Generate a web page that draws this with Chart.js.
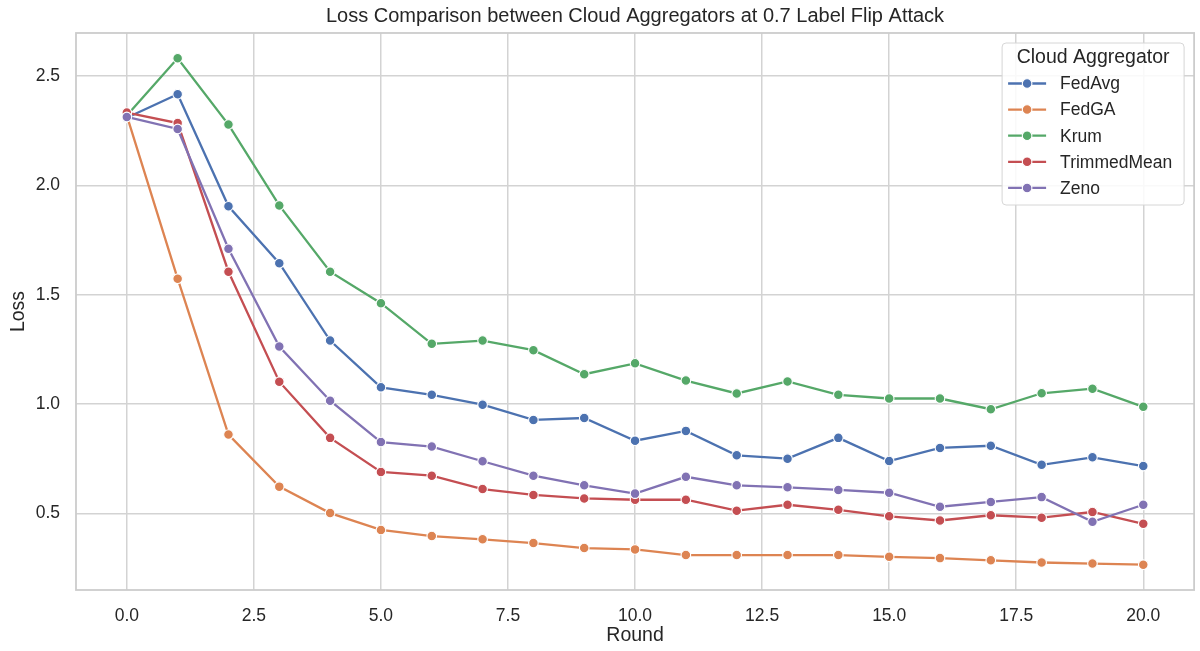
<!DOCTYPE html>
<html>
<head>
<meta charset="utf-8">
<title>Loss Comparison between Cloud Aggregators</title>
<script src="https://cdn.jsdelivr.net/npm/chart.js@4.4.0/dist/chart.umd.min.js"></script>
<style>
  html, body { margin: 0; padding: 0; background: #ffffff; }
  #wrap { width: 1200px; height: 651px; position: relative; }
</style>
</head>
<body>
<div id="wrap"><canvas id="chart" width="1200" height="651"></canvas></div>
<script>
// Loss per round for each cloud aggregator (0.7 label flip attack)
const rounds = [0, 1, 2, 3, 4, 5, 6, 7, 8, 9, 10, 11, 12, 13, 14, 15, 16, 17, 18, 19, 20];
const aggregatorNames = ["FedAvg", "FedGA", "Krum", "TrimmedMean", "Zeno"];

const fedAvgLoss = [2.31, 2.418, 1.905, 1.645, 1.291, 1.077, 1.043, 0.998, 0.928, 0.937, 0.833,
                    0.878, 0.766, 0.751, 0.846, 0.740, 0.800, 0.810, 0.723, 0.757, 0.717];
const fedGALoss = [2.32, 1.574, 0.861, 0.623, 0.502, 0.425, 0.397, 0.382, 0.365, 0.342, 0.336,
                   0.310, 0.310, 0.310, 0.310, 0.302, 0.296, 0.286, 0.276, 0.271, 0.266];
const krumLoss = [2.32, 2.582, 2.279, 1.909, 1.606, 1.462, 1.276, 1.291, 1.247, 1.137, 1.187,
                  1.108, 1.049, 1.104, 1.043, 1.026, 1.026, 0.977, 1.050, 1.071, 0.988];
const trimmedMeanLoss = [2.334, 2.286, 1.606, 1.103, 0.846, 0.690, 0.673, 0.612, 0.585, 0.569, 0.563,
                         0.563, 0.513, 0.540, 0.517, 0.487, 0.468, 0.492, 0.481, 0.507, 0.453];
const zenoLoss = [2.314, 2.259, 1.711, 1.264, 1.016, 0.827, 0.806, 0.739, 0.673, 0.629, 0.591,
                  0.668, 0.629, 0.620, 0.608, 0.595, 0.531, 0.553, 0.575, 0.462, 0.540];

const xTickValues = [0, 2.5, 5, 7.5, 10, 12.5, 15, 17.5, 20];
const yTickValues = [0.5, 1.0, 1.5, 2.0, 2.5];

const chartTitle = "Loss Comparison between Cloud Aggregators at 0.7 Label Flip Attack";
const xAxisTitle = "Round";
const yAxisTitle = "Loss";
const legendTitle = "Cloud Aggregator";

// seaborn "deep" palette
const palette = ["#4c72b0", "#dd8452", "#55a868", "#c44e52", "#8172b3"];
const seriesValues = [fedAvgLoss, fedGALoss, krumLoss, trimmedMeanLoss, zenoLoss];

const FONT = "'Liberation Sans', Arial, Helvetica, sans-serif";
const TEXT_COLOR = "#262626";
const GRID_COLOR = "#d3d3d3";
const MARKER_RADIUS = 4.8;

// autoscale with 5% margins on both axes
const allValues = seriesValues.flat();
const yLo = Math.min(...allValues), yHi = Math.max(...allValues);
const yPad = (yHi - yLo) * 0.05;
const xLo = Math.min(...rounds), xHi = Math.max(...rounds);
const xPad = (xHi - xLo) * 0.05;

const datasets = aggregatorNames.map((name, i) => ({
  label: name,
  data: seriesValues[i].map((v, k) => ({ x: rounds[k], y: v })),
  borderColor: palette[i],
  backgroundColor: palette[i],
  borderWidth: 2.3,
  pointRadius: MARKER_RADIUS,
  pointHoverRadius: MARKER_RADIUS,
  pointBackgroundColor: palette[i],
  pointBorderColor: "#ffffff",
  pointBorderWidth: 1.1,
  tension: 0,
  fill: false,
  order: aggregatorNames.length - i
}));

// axes frame on all four sides
const framePlugin = {
  id: "frame",
  beforeDatasetsDraw(chart) {
    const { ctx, chartArea: a } = chart;
    ctx.save();
    ctx.strokeStyle = "#cccccc";
    ctx.lineWidth = 1.8;
    ctx.strokeRect(a.left, a.top, a.right - a.left, a.bottom - a.top);
    ctx.restore();
  }
};

// title centred over the plotting area
const titlePlugin = {
  id: "plotTitle",
  afterDraw(chart) {
    const { ctx, chartArea: a } = chart;
    ctx.save();
    ctx.fillStyle = TEXT_COLOR;
    ctx.font = "20px " + FONT;
    ctx.textAlign = "center";
    ctx.textBaseline = "middle";
    ctx.fillText(chartTitle, (a.left + a.right) / 2, 16);
    ctx.restore();
  }
};

// framed legend with a title and line+marker handles, upper right
const legendPlugin = {
  id: "aggLegend",
  afterDatasetsDraw(chart) {
    const { ctx, chartArea: a } = chart;
    const boxRight = a.right - 10, boxTop = a.top + 10;
    const boxW = 182, boxH = 162;
    const boxLeft = boxRight - boxW;
    ctx.save();
    // frame
    const r = 4;
    ctx.beginPath();
    ctx.moveTo(boxLeft + r, boxTop);
    ctx.lineTo(boxRight - r, boxTop);
    ctx.quadraticCurveTo(boxRight, boxTop, boxRight, boxTop + r);
    ctx.lineTo(boxRight, boxTop + boxH - r);
    ctx.quadraticCurveTo(boxRight, boxTop + boxH, boxRight - r, boxTop + boxH);
    ctx.lineTo(boxLeft + r, boxTop + boxH);
    ctx.quadraticCurveTo(boxLeft, boxTop + boxH, boxLeft, boxTop + boxH - r);
    ctx.lineTo(boxLeft, boxTop + r);
    ctx.quadraticCurveTo(boxLeft, boxTop, boxLeft + r, boxTop);
    ctx.closePath();
    ctx.fillStyle = "rgba(255,255,255,0.85)";
    ctx.fill();
    ctx.strokeStyle = "#d6d6d6";
    ctx.lineWidth = 1;
    ctx.stroke();

    // title
    ctx.fillStyle = TEXT_COLOR;
    ctx.font = "19.5px " + FONT;
    ctx.textAlign = "center";
    ctx.textBaseline = "middle";
    ctx.fillText(legendTitle, boxLeft + boxW / 2, boxTop + 15);

    // entries
    ctx.font = "17.5px " + FONT;
    ctx.textAlign = "left";
    chart.data.datasets.forEach((ds, i) => {
      const y = boxTop + 40.5 + i * 26.1;
      const x0 = boxLeft + 6, x1 = boxLeft + 44, xm = (x0 + x1) / 2;
      ctx.strokeStyle = ds.borderColor;
      ctx.lineWidth = 2.3;
      ctx.beginPath();
      ctx.moveTo(x0, y);
      ctx.lineTo(x1, y);
      ctx.stroke();
      ctx.beginPath();
      ctx.arc(xm, y, MARKER_RADIUS, 0, Math.PI * 2);
      ctx.fillStyle = ds.borderColor;
      ctx.fill();
      ctx.strokeStyle = "#ffffff";
      ctx.lineWidth = 1.1;
      ctx.stroke();
      ctx.fillStyle = TEXT_COLOR;
      ctx.fillText(ds.label, boxLeft + 58, y + 1);
    });
    ctx.restore();
  }
};

new Chart(document.getElementById("chart"), {
  type: "line",
  data: { datasets },
  plugins: [framePlugin, titlePlugin, legendPlugin],
  options: {
    responsive: false,
    animation: false,
    devicePixelRatio: 1,
    layout: { padding: { top: 33, right: 3, bottom: 0, left: 0 } },
    plugins: {
      legend: { display: false },
      title: { display: false },
      tooltip: { enabled: false }
    },
    scales: {
      x: {
        type: "linear",
        min: xLo - xPad,
        max: xHi + xPad,
        afterBuildTicks(scale) { scale.ticks = xTickValues.map(v => ({ value: v })); },
        afterFit(scale) { scale.height = 61; },
        grid: { color: GRID_COLOR, lineWidth: 1.5, drawTicks: false },
        border: { display: false },
        ticks: {
          color: TEXT_COLOR,
          font: { family: FONT, size: 17.5 },
          padding: 16,
          maxRotation: 0,
          autoSkip: false,
          callback: v => Number(v).toFixed(1)
        },
        title: {
          display: true,
          text: xAxisTitle,
          color: TEXT_COLOR,
          font: { family: FONT, size: 19.5 },
          padding: { top: 0, bottom: 4 }
        }
      },
      y: {
        type: "linear",
        min: yLo - yPad,
        max: yHi + yPad,
        afterBuildTicks(scale) { scale.ticks = yTickValues.map(v => ({ value: v })); },
        afterFit(scale) { scale.width = 76; },
        grid: { color: GRID_COLOR, lineWidth: 1.5, drawTicks: false },
        border: { display: false },
        ticks: {
          color: TEXT_COLOR,
          font: { family: FONT, size: 17.5 },
          padding: 16,
          autoSkip: false,
          callback: v => Number(v).toFixed(1)
        },
        title: {
          display: true,
          text: yAxisTitle,
          color: TEXT_COLOR,
          font: { family: FONT, size: 19.5 },
          padding: { top: 7, bottom: 0 }
        }
      }
    }
  }
});
</script>
</body>
</html>
